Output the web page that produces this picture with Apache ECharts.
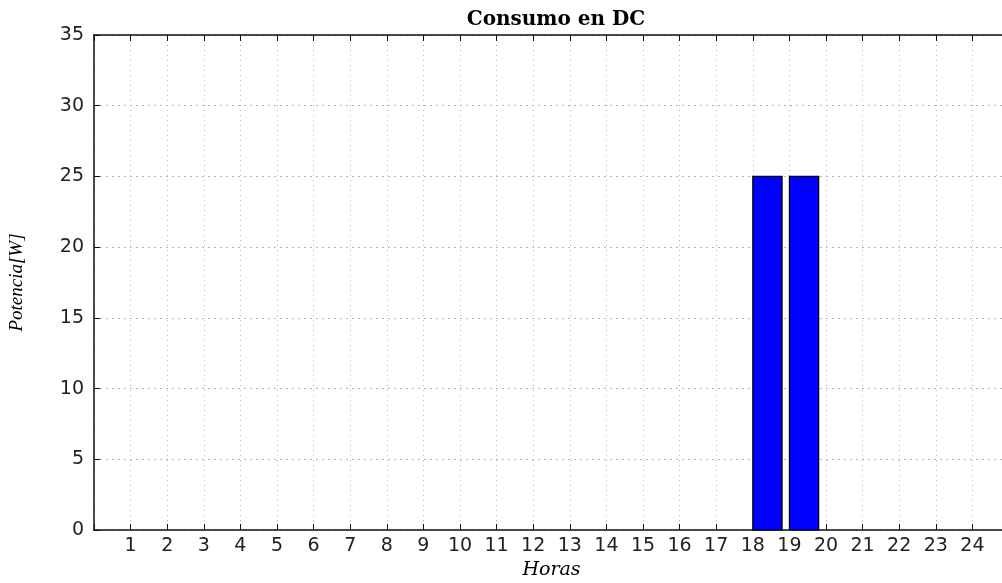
<!DOCTYPE html>
<html>
<head>
<meta charset="utf-8">
<script src="https://cdn.jsdelivr.net/npm/echarts@6/dist/echarts.min.js"></script>
<style>
html,body{margin:0;padding:0;background:#fff;}
#chart{width:1002px;height:583px;}
</style>
</head>
<body>
<div id="chart"></div>
<script>
const titleText = 'Consumo en DC';
const xName = 'Horas';
const yName = 'Potencia[W]';
const hours = [1,2,3,4,5,6,7,8,9,10,11,12,13,14,15,16,17,18,19,20,21,22,23,24];
const power = [0,0,0,0,0,0,0,0,0,0,0,0,0,0,0,0,0,25,25,0,0,0,0,0];
const yTicks = [0,5,10,15,20,25,30,35];

const BAR_W = 0.8;
const chart = echarts.init(document.getElementById('chart'), null, {renderer:'canvas'});
const seriesData = hours.map((h,i)=>[h, power[i]]);
const labelStyle = {color:'#222', fontFamily:'DejaVu Sans', fontSize:19};

chart.setOption({
  animation:false,
  backgroundColor:'#fff',
  title:{
    text:titleText, left:551, top:5, textAlign:'center',
    textStyle:{fontFamily:'DejaVu Serif', fontWeight:'bold', fontSize:20, color:'#000'}
  },
  grid:{left:94, top:35, width:915, height:495, containLabel:false, outerBoundsMode:'none'},
  xAxis:[{
    type:'value', position:'bottom', min:0, max:25, interval:1,
    name:xName, nameLocation:'middle', nameGap:31,
    nameTextStyle:{fontFamily:'DejaVu Serif', fontStyle:'italic', fontSize:19, color:'#000'},
    axisLine:{show:true, lineStyle:{color:'#111', width:1.5}},
    axisTick:{show:true, inside:true, length:6, lineStyle:{color:'#111'}},
    axisLabel:{...labelStyle, margin:7, formatter:(v)=> (hours.indexOf(v)>=0 ? String(v) : '')},
    splitLine:{show:true, lineStyle:{color:'#b5b5b5', type:[1,4], width:1}}
  },{
    type:'value', position:'top', min:0, max:25, interval:1,
    axisLine:{show:true, lineStyle:{color:'#111', width:1.5}},
    axisTick:{show:true, inside:true, length:6, lineStyle:{color:'#111'}},
    axisLabel:{show:false}, splitLine:{show:false}
  }],
  yAxis:{
    type:'value', min:yTicks[0], max:yTicks[yTicks.length-1], interval:5,
    name:yName, nameLocation:'middle', nameGap:68, nameRotate:90,
    nameTextStyle:{fontFamily:'Liberation Serif', fontStyle:'italic', fontSize:19, color:'#000'},
    axisLine:{show:true, lineStyle:{color:'#111', width:1.5}},
    axisTick:{show:true, inside:true, length:6, lineStyle:{color:'#111'}},
    axisLabel:{...labelStyle, margin:10},
    splitLine:{show:true, lineStyle:{color:'#b5b5b5', type:[2,4], width:1}}
  },
  series:[{
    type:'custom',
    xAxisIndex:0,
    data:seriesData,
    renderItem:function(params, api){
      const h = api.value(0), v = api.value(1);
      if (!v) return null;
      const p0 = api.coord([h, 0]);
      const p1 = api.coord([h + BAR_W, v]);
      return {
        type:'rect',
        shape:{x:p0[0], y:p1[1], width:p1[0]-p0[0], height:p0[1]-p1[1]},
        style:{fill:'#0000ff', stroke:'#000', lineWidth:1.2}
      };
    }
  }]
});
</script>
</body>
</html>
